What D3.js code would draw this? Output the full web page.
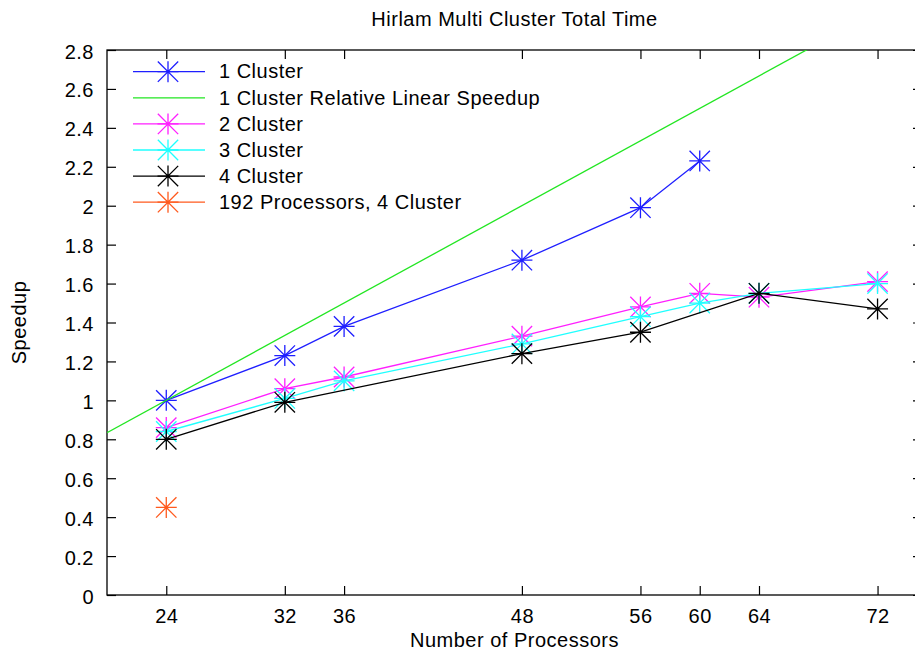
<!DOCTYPE html>
<html>
<head>
<meta charset="utf-8">
<script src="https://cdn.jsdelivr.net/npm/d3@7"></script>
<style>
  body { margin: 0; background: #fff; }
  svg { display: block; }
  text { font-family: "Liberation Sans", Arial, sans-serif; font-size: 20px; letter-spacing: 0.5px; fill: #000; }
</style>
</head>
<body>
<div id="chart"></div>
<script>
// Data
const processors1 = [24, 32, 36, 48, 56, 60];
const speedup1 = [1.0, 1.23, 1.38, 1.72, 1.99, 2.23];

// relative linear speedup (x / 24), endpoints of the plotted range
const linearX = [20, 75];
const linearY = [0.8333, 3.125];

const processors2 = [24, 32, 36, 48, 56, 60, 64, 72];
const speedup2 = [0.86, 1.06, 1.12, 1.33, 1.48, 1.55, 1.53, 1.61];

const processors3 = [24, 32, 36, 48, 56, 60, 64, 72];
const speedup3 = [0.84, 1.01, 1.10, 1.29, 1.43, 1.50, 1.55, 1.60];

const processors4 = [24, 32, 48, 56, 64, 72];
const speedup4 = [0.80, 0.99, 1.24, 1.35, 1.55, 1.47];

const processors192 = [24];
const speedup192 = [0.45];

const xTicks = [24, 32, 36, 48, 56, 60, 64, 72];
const yTicks = [0, 0.2, 0.4, 0.6, 0.8, 1, 1.2, 1.4, 1.6, 1.8, 2, 2.2, 2.4, 2.6, 2.8];

const seriesNames = ['1 Cluster', '1 Cluster Relative Linear Speedup', '2 Cluster', '3 Cluster', '4 Cluster', '192 Processors, 4 Cluster'];
const seriesColors = ['#1f1fff', '#22e622', '#ff1fff', '#1fffff', '#000000', '#ff5a1e'];

// Layout
const width = 915, height = 658;
const margin = { top: 50, left: 107, right: 922, bottom: 595 };

const svg = d3.select('#chart')
    .append('svg')
        .attr('width', width)
        .attr('height', height);

const x = d3.scaleLinear().domain([20, 75]).range([margin.left, margin.right]);
const y = d3.scaleLinear().domain([0, 2.8]).range([margin.bottom, margin.top]);

svg.append('clipPath')
    .attr('id', 'plot-clip')
    .append('rect')
        .attr('x', margin.left)
        .attr('y', margin.top)
        .attr('width', margin.right - margin.left)
        .attr('height', margin.bottom - margin.top);

// Axes with inward ticks (mirrored on top/right)
const tickLen = 9;
const xAxisBottom = svg.append('g')
    .attr('transform', `translate(0,${margin.bottom})`)
    .call(d3.axisBottom(x).tickValues(xTicks).tickSizeInner(-tickLen).tickSizeOuter(0))
    .call(g => g.select('.domain').remove());
svg.append('g')
    .attr('transform', `translate(0,${margin.top})`)
    .call(d3.axisTop(x).tickValues(xTicks).tickSizeInner(-tickLen).tickSizeOuter(0).tickFormat(''))
    .call(g => g.select('.domain').remove());
const yAxisLeft = svg.append('g')
    .attr('transform', `translate(${margin.left},0)`)
    .call(d3.axisLeft(y).tickValues(yTicks).tickSizeInner(-tickLen).tickSizeOuter(0).tickFormat(d3.format('~g')))
    .call(g => g.select('.domain').remove());
svg.append('g')
    .attr('transform', `translate(${margin.right},0)`)
    .call(d3.axisRight(y).tickValues(yTicks).tickSizeInner(-tickLen).tickSizeOuter(0).tickFormat(''))
    .call(g => g.select('.domain').remove());

svg.selectAll('.tick line').attr('stroke', '#000').attr('stroke-width', 1.2);
svg.selectAll('.tick text')
    .attr('font-family', null)
    .attr('font-size', null)
    .attr('fill', '#000');
xAxisBottom.selectAll('.tick text').attr('dy', null).attr('y', 28);
yAxisLeft.selectAll('.tick text').attr('dy', null).attr('y', 8).attr('x', -13);

// Border
svg.append('rect')
    .attr('x', margin.left)
    .attr('y', margin.top)
    .attr('width', margin.right - margin.left)
    .attr('height', margin.bottom - margin.top)
    .attr('fill', 'none')
    .attr('stroke', '#000')
    .attr('stroke-width', 1.3);

// Titles
svg.append('text')
    .attr('x', (margin.left + margin.right) / 2)
    .attr('y', 26)
    .attr('text-anchor', 'middle')
    .text('Hirlam Multi Cluster Total Time');
svg.append('text')
    .attr('x', (margin.left + margin.right) / 2)
    .attr('y', 647)
    .attr('text-anchor', 'middle')
    .text('Number of Processors');
svg.append('text')
    .attr('transform', `translate(26,${(margin.top + margin.bottom) / 2}) rotate(-90)`)
    .attr('text-anchor', 'middle')
    .text('Speedup');

// Star marker (plus + cross)
const starSize = 10.5;
function starPath(cx, cy) {
    const s = starSize, d = starSize * 0.97;
    return `M${cx - s},${cy}L${cx + s},${cy}M${cx},${cy - s}L${cx},${cy + s}` +
        `M${cx - d},${cy - d}L${cx + d},${cy + d}M${cx - d},${cy + d}L${cx + d},${cy - d}`;
}

const line = d3.line().x(d => x(d[0])).y(d => y(d[1]));
const plot = svg.append('g').attr('clip-path', 'url(#plot-clip)');

function drawSeries(xs, ys, color, withLine, withPoints) {
    const pts = xs.map((v, i) => [v, ys[i]]);
    if (withLine && pts.length > 1) {
        plot.append('path')
            .datum(pts)
            .attr('d', line)
            .attr('fill', 'none')
            .attr('stroke', color)
            .attr('stroke-width', 1.3);
    }
    if (withPoints) {
        plot.selectAll(null)
            .data(pts)
            .enter()
            .append('path')
                .attr('d', d => starPath(x(d[0]), y(d[1])))
                .attr('stroke', color)
                .attr('stroke-width', 1.3)
                .attr('fill', 'none');
    }
}

drawSeries(processors1, speedup1, seriesColors[0], true, true);
drawSeries(linearX, linearY, seriesColors[1], true, false);
drawSeries(processors2, speedup2, seriesColors[2], true, true);
drawSeries(processors3, speedup3, seriesColors[3], true, true);
drawSeries(processors4, speedup4, seriesColors[4], true, true);
drawSeries(processors192, speedup192, seriesColors[5], false, true);

// Legend
const legend = svg.append('g');
const legendHasPoint = [true, false, true, true, true, true];
seriesNames.forEach((name, i) => {
    const cy = 71.7 + i * 26.1;
    legend.append('line')
        .attr('x1', 133).attr('x2', 205)
        .attr('y1', cy).attr('y2', cy)
        .attr('stroke', seriesColors[i])
        .attr('stroke-width', 1.3);
    if (legendHasPoint[i]) {
        legend.append('path')
            .attr('d', starPath(168, cy))
            .attr('stroke', seriesColors[i])
            .attr('stroke-width', 1.3)
            .attr('fill', 'none');
    }
    legend.append('text')
        .attr('x', 219)
        .attr('y', cy + 6.7)
        .text(name);
});
</script>
</body>
</html>
